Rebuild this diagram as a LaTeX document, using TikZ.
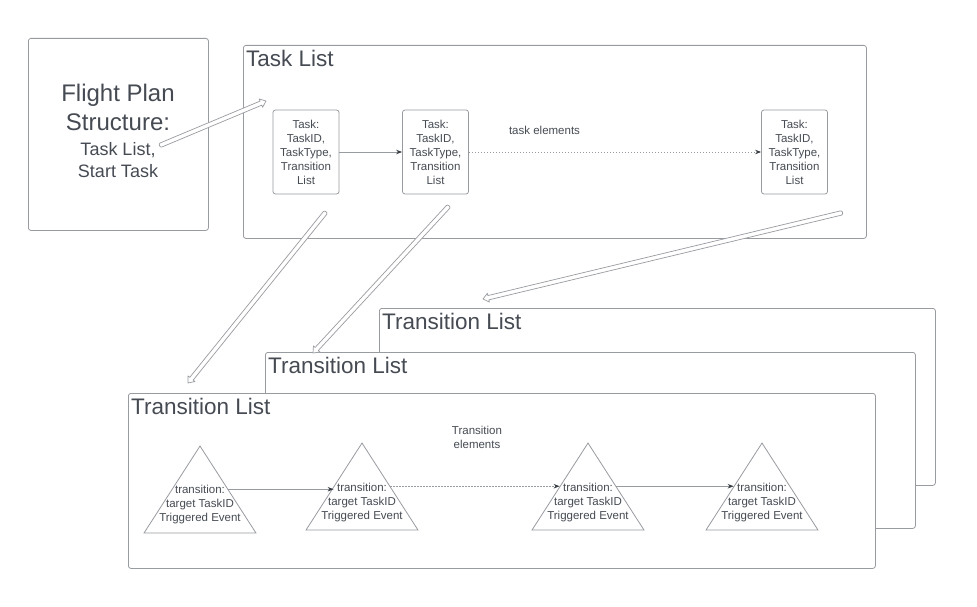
\documentclass[tikz,border=0pt]{standalone}
\usepackage{fontspec}
\setmainfont{Liberation Sans}
\usetikzlibrary{calc,shapes.geometric,arrows.meta}
\definecolor{linegray}{HTML}{989BA0}
\definecolor{txtgray}{HTML}{464B53}
\definecolor{arrdark}{HTML}{3A3F46}
\tikzset{
  bigbox/.style={draw=linegray, line width=0.8pt, rounded corners=2.5pt, fill=white, inner sep=0pt, anchor=north west},
  boxtitle/.style={text=txtgray, inner sep=0pt, anchor=base west, font=\fontsize{22.5}{27}\selectfont},
  taskbox/.style={draw=linegray, line width=0.8pt, rounded corners=2.5pt, fill=white, inner sep=0pt,
    minimum width=66pt, minimum height=84pt, align=center, text=txtgray, font=\fontsize{11.5}{14}\selectfont},
  tri/.style={draw=linegray, line width=0.8pt, fill=white, isosceles triangle, shape border rotate=90,
    isosceles triangle stretches, minimum width=112pt, minimum height=87pt, inner sep=0pt, anchor=apex},
  tritext/.style={align=center, text=txtgray, inner sep=0pt, font=\fontsize{11.5}{14}\selectfont},
  lbl/.style={align=center, text=txtgray, inner sep=0pt, font=\fontsize{11.5}{14}\selectfont},
  conn/.style={draw=linegray, line width=0.8pt, -{Stealth[length=6pt,width=4.5pt,color=arrdark]}},
  dotconn/.style={conn, dash pattern=on 1.5pt off 1.5pt},
  harrowline/.style={draw=linegray, line width=0.7pt, fill=white, line join=round},
}
\newcommand{\harrow}[2]{%
  \coordinate (#1h) at ($(#2)!5.5pt!(#1)$);
  \draw[harrowline]
    ($(#1)!2.2pt!90:(#2)$) -- ($(#1h)!2.2pt!-90:(#1)$) -- ($(#1h)!4.5pt!-90:(#1)$) -- (#2)
    -- ($(#1h)!4.5pt!90:(#1)$) -- ($(#1h)!2.2pt!90:(#1)$) -- ($(#1)!2.2pt!-90:(#2)$)
    .. controls ($(#1)!3.1pt!-135:(#2)$) and ($(#1)!3.1pt!135:(#2)$) .. cycle;
}
\begin{document}
\begin{tikzpicture}[x=1pt,y=-1pt]
\useasboundingbox (0,0) rectangle (977,607);
% Flight plan box
\node[bigbox, minimum width=180pt, minimum height=192pt] (fpbox) at (28,38) {};
\node[align=center, text=txtgray, inner sep=0pt, font=\fontsize{24}{29}\selectfont] (fptitle) at (118,107) {Flight Plan\\Structure:};
\node[align=center, text=txtgray, inner sep=0pt, font=\fontsize{18}{22}\selectfont] (fpsub) at (118,160) {Task List,\\Start Task};
% Task list
\node[bigbox, minimum width=623pt, minimum height=193pt] (tasklist) at (243,45) {};
\node[boxtitle] (tasklisttitle) at ($(tasklist.north west)+(3,22)$) {Task List};
\node[taskbox] (task1) at (306,152) {Task:\\TaskID,\\TaskType,\\Transition\\List};
\node[taskbox] (task2) at (435.5,152) {Task:\\TaskID,\\TaskType,\\Transition\\List};
\node[taskbox] (task3) at (794.5,152) {Task:\\TaskID,\\TaskType,\\Transition\\List};
\node[lbl] (tasklbl) at (544.5,130) {task elements};
\draw[conn] (task1.east) -- (task2.west);
\draw[dotconn] (task2.east) -- (task3.west);
% Transition lists
\node[bigbox, minimum width=556pt, minimum height=177pt] (tlback) at (379,308) {};
\node[boxtitle] (tlbacktitle) at ($(tlback.north west)+(3,21)$) {Transition List};
\node[bigbox, minimum width=650pt, minimum height=176pt] (tlmid) at (265,352) {};
\node[boxtitle] (tlmidtitle) at ($(tlmid.north west)+(3,21)$) {Transition List};
\node[bigbox, minimum width=747pt, minimum height=175pt] (tlfront) at (128,393) {};
\node[boxtitle] (tlfronttitle) at ($(tlfront.north west)+(3,21)$) {Transition List};
\node[lbl] (translbl) at (477,437) {Transition\\elements};
% Triangles
\node[tri] (t1) at (200,445) {};
\node[tri] (t2) at (362,442) {};
\node[tri] (t3) at (588,442) {};
\node[tri] (t4) at (762,442) {};
\node[tritext] (t1txt) at (200,504.5) {transition:\\target TaskID\\Triggered Event};
\node[tritext] (t2txt) at (362,502.5) {transition:\\target TaskID\\Triggered Event};
\node[tritext] (t3txt) at (588,502.5) {transition:\\target TaskID\\Triggered Event};
\node[tritext] (t4txt) at (762,502.5) {transition:\\target TaskID\\Triggered Event};
\draw[conn] (t1.right side) -- (t1.right side -| t2.left side);
\draw[dotconn] (t2.right side) -- (t3.left side);
\draw[conn] (t3.right side) -- (t4.left side);
% Hollow arrows
\coordinate (a1) at (161,145); \coordinate (b1) at (266,101);
\coordinate (a2) at (325,213); \coordinate (b2) at (188,383);
\coordinate (a3) at (448,207); \coordinate (b3) at (313,353);
\coordinate (a4) at (841,213); \coordinate (b4) at (483,299);
\harrow{a1}{b1}
\harrow{a2}{b2}
\harrow{a3}{b3}
\harrow{a4}{b4}
\end{tikzpicture}
\end{document}
